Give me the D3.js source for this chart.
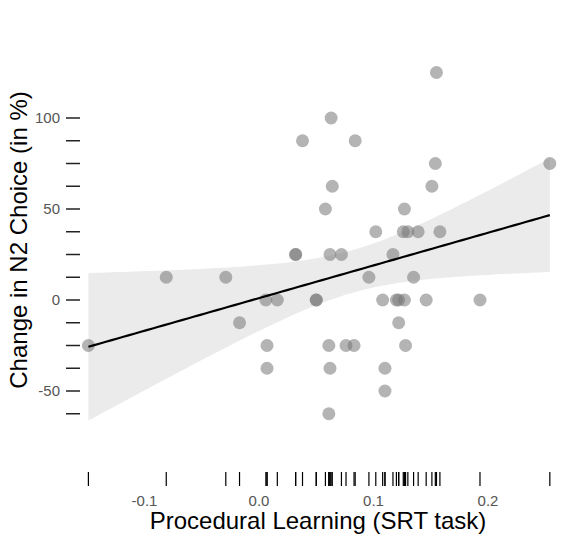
<!DOCTYPE html>
<html><head><meta charset="utf-8">
<script src="https://cdn.jsdelivr.net/npm/d3@7"></script>
<style>body{margin:0;background:#fff}</style>
</head><body>
<svg id="chart" width="580" height="540"></svg>
<script>
// procedural learning scores (x) and change in N2 choice (y)
var learning = [-0.149,-0.081,-0.029,-0.017,0.006,0.016,0.007,0.007,0.032,0.032,0.038,0.05,0.05,0.061,0.062,0.058,0.062,0.063,0.064,0.061,0.072,0.076,0.083,0.084,0.096,0.102,0.108,0.110,0.117,0.120,0.122,0.122,0.128,0.110,0.127,0.126,0.130,0.139,0.127,0.135,0.146,0.151,0.154,0.158,0.155,0.193,0.254];
var change = [-25,12.5,12.5,-12.5,0,0,-25,-37.5,25,25,87.5,0,0,-25,-37.5,50,25,100,62.5,-62.5,25,-25,-25,87.5,12.5,37.5,0,-50,25,0,0,-12.5,-25,-37.5,50,37.5,37.5,37.5,0,12.5,0,62.5,75,37.5,125,0,75];
var yTicks = [-62.5,-50,-37.5,-25,-12.5,0,12.5,25,37.5,50,62.5,75,87.5,100];
var yLabels = [-50,0,50,100];
var xLabels = [-0.1,0,0.1,0.2];

var svg = d3.select("#chart");
var x = d3.scaleLinear().domain([0,0.1]).range([259,373.5]);
var y = d3.scaleLinear().domain([0,100]).range([300,118]);

// linear fit with 95% confidence band
var n = learning.length;
var mx = d3.mean(learning), my = d3.mean(change);
var sxx = d3.sum(learning, function(v){return (v-mx)*(v-mx)});
var sxy = d3.sum(learning.map(function(v,i){return (v-mx)*(change[i]-my)}));
var b = sxy/sxx, a = my - b*mx;
var sse = d3.sum(learning.map(function(v,i){var r = change[i]-(a+b*v); return r*r}));
var s = Math.sqrt(sse/(n-2)), t = 2.014;
var xs = d3.range(80).map(function(i){return d3.min(learning)+i*(d3.max(learning)-d3.min(learning))/79});
var band = xs.map(function(v){
  var se = s*Math.sqrt(1/n + (v-mx)*(v-mx)/sxx);
  return {x:v, f:a+b*v, lo:a+b*v-t*se, hi:a+b*v+t*se};
});

svg.append("path").datum(band)
  .attr("d", d3.area().x(function(d){return x(d.x)}).y0(function(d){return y(d.lo)}).y1(function(d){return y(d.hi)}))
  .attr("fill","#ebebeb");

svg.selectAll("circle").data(learning).enter().append("circle")
  .attr("cx", function(d){return x(d)})
  .attr("cy", function(d,i){return y(change[i])})
  .attr("r", 6.5)
  .attr("fill","#777").attr("fill-opacity",0.55);

svg.append("path").datum(band)
  .attr("d", d3.line().x(function(d){return x(d.x)}).y(function(d){return y(d.f)}))
  .attr("fill","none").attr("stroke","#000").attr("stroke-width",2.2);

// y axis: tick dashes only
svg.selectAll("line.yt").data(yTicks).enter().append("line")
  .attr("x1",66).attr("x2",80)
  .attr("y1",function(d){return y(d)}).attr("y2",function(d){return y(d)})
  .attr("stroke","#222").attr("stroke-width",1.5);
svg.selectAll("text.yl").data(yLabels).enter().append("text")
  .attr("x",60).attr("y",function(d){return y(d)+5})
  .attr("text-anchor","end").attr("font-family","Arial, Liberation Sans, sans-serif")
  .attr("font-size",15).attr("fill","#555").text(function(d){return d});

// rug along the bottom
svg.selectAll("line.rug").data(learning).enter().append("line")
  .attr("x1",function(d){return x(d)}).attr("x2",function(d){return x(d)})
  .attr("y1",472).attr("y2",486)
  .attr("stroke","#000").attr("stroke-width",1.2);
svg.selectAll("text.xl").data(xLabels).enter().append("text")
  .attr("x",function(d){return x(d)}).attr("y",506)
  .attr("text-anchor","middle").attr("font-family","Arial, Liberation Sans, sans-serif")
  .attr("font-size",15).attr("fill","#555").text(function(d){return d.toFixed(1)});

svg.append("text").attr("x",318).attr("y",529).attr("text-anchor","middle")
  .attr("font-family","Arial, Liberation Sans, sans-serif").attr("font-size",24)
  .text("Procedural Learning (SRT task)");
svg.append("text").attr("transform","translate(27,240) rotate(-90)").attr("text-anchor","middle")
  .attr("font-family","Arial, Liberation Sans, sans-serif").attr("font-size",24)
  .text("Change in N2 Choice (in %)");
</script>
</body></html>
